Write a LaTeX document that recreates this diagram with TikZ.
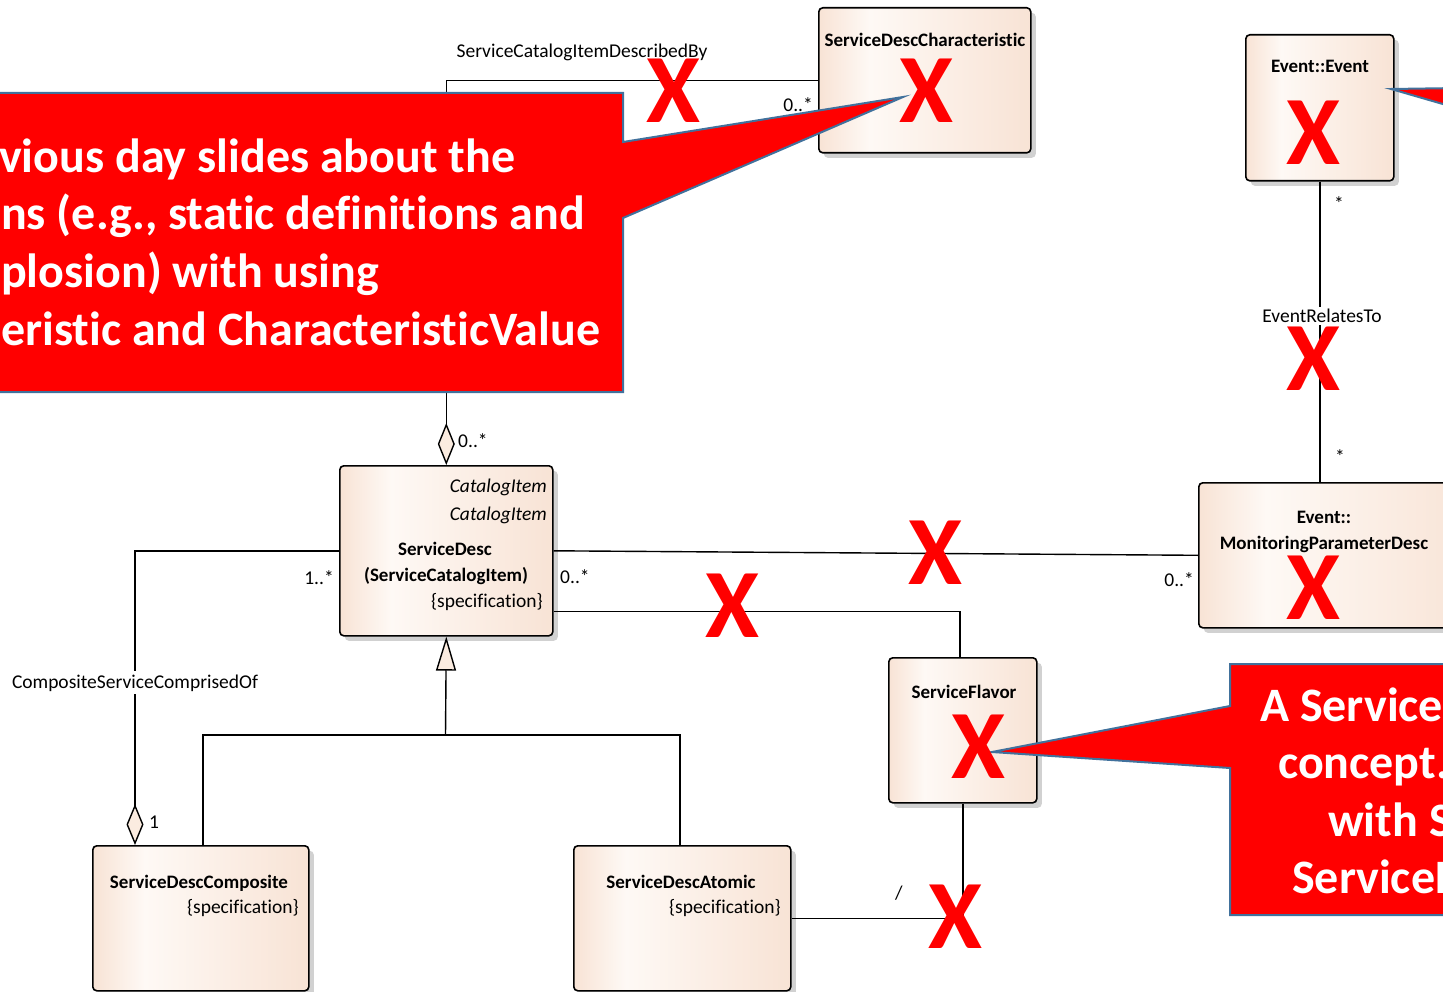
\documentclass[tikz,border=0pt]{standalone}
\usepackage{fontspec}
\setmainfont{Carlito}[Ligatures=NoCommon]
\usetikzlibrary{arrows.meta,shadows}
\definecolor{pch}{RGB}{248,227,213}
\definecolor{pchl}{RGB}{254,249,245}
\definecolor{tipfill}{RGB}{251,236,224}
\definecolor{calloutline}{RGB}{65,113,156}
\definecolor{xred}{RGB}{255,0,0}
\pgfdeclarehorizontalshading{boxshade}{100bp}{color(0bp)=(pch); color(25bp)=(pch); color(37bp)=(pchl); color(75bp)=(pch); color(100bp)=(pch)}
\newcommand\lblfont{\fontsize{19.5}{23}\selectfont}
\newcommand\ttlfont{\fontsize{19}{23}\selectfont\bfseries}
\newcommand\bigfont{\fontsize{48}{57}\selectfont\bfseries}
\newcommand\xfont{\fontsize{98}{100}\selectfont\bfseries}
\begin{document}
\begin{tikzpicture}[x=1pt,y=-1pt,
  umlbox/.style={draw=black, line width=1.6pt, rounded corners=4pt, shading=boxshade,
    drop shadow={shadow xshift=5pt, shadow yshift=-5pt, fill=black!18, opacity=1},
    anchor=north west, inner sep=0pt},
  conn/.style={draw=black, line width=1.4pt},
  lab/.style={font=\lblfont, inner sep=0pt, anchor=base},
  ttl/.style={font=\ttlfont, inner sep=0pt, anchor=base},
  callout/.style={fill=xred, draw=calloutline, line width=2pt, line join=miter},
  bigtxt/.style={font=\bigfont, text=white, inner sep=0pt, anchor=base west},
  xmark/.style={font=\xfont, text=xred, inner sep=0pt}
]
\useasboundingbox (0,0) rectangle (1443,992);
\clip (0,0) rectangle (1443,992);

% boxes
\node[umlbox, minimum width=212pt, minimum height=145pt] (sdc) at (818,7) {};
\node[umlbox, minimum width=148pt, minimum height=146pt] (ev) at (1245,34) {};
\node[umlbox, minimum width=213pt, minimum height=170pt] (sd) at (339,465) {};
\node[umlbox, minimum width=280pt, minimum height=145pt] (mon) at (1198,482) {};
\node[umlbox, minimum width=148pt, minimum height=145pt] (flv) at (888,657) {};
\node[umlbox, minimum width=216pt, minimum height=145pt] (comp) at (92,845) {};
\node[umlbox, minimum width=217pt, minimum height=145pt] (atom) at (573,845) {};

% connectors
\draw[conn, {Diamond[length=42pt,width=17pt,fill=tipfill]}-] (sd.north) |- (sdc.west);
\draw[conn, {Diamond[length=41pt,width=17pt,fill=tipfill]}-] ([xshift=43pt]comp.north west) |- (sd.west);
\coordinate (gen) at (445.5,735);
\draw[conn, -{Triangle[length=34pt,width=20pt,fill=tipfill]}] (gen) -- (sd.south);
\draw[conn] ([xshift=111pt]comp.north west) |- (gen) -| ([xshift=107pt]atom.north west);
\draw[conn] (sd.east) -- (mon.west);
\draw[conn] ([yshift=25pt]sd.south east) -| ([xshift=72pt]flv.north west);
\draw[conn] ([xshift=75pt]flv.south west) |- (atom.east);
\draw[conn] (ev.south) -- (ev.south |- mon.north);

% connector labels
\node[lab] (l1) at (582,58) {ServiceCatalogItemDescribedBy};
\node[lab, anchor=base east] (l2) at (813,112) {0..*};
\node[lab, anchor=base west] (l3) at (458,447) {0..*};
\node[lab, anchor=base east] (l4) at (334,584) {1..*};
\node[lab, anchor=base west] (l5) at (560,583) {0..*};
\node[lab, anchor=base east] (l6) at (1194,586) {0..*};
\node[lab, fill=white, inner sep=3pt] (l7) at (135,688) {CompositeServiceComprisedOf};
\node[lab, anchor=base west] (l8) at (149,828) {1};
\node[lab] (l9) at (899,899) {/};
\node[lab] (l10) at (1339,211) {*};
\node[lab] (l11) at (1340,463) {*};
\node[lab, fill=white, inner sep=2pt] (l12) at (1322,323) {EventRelatesTo};

% box texts
\node[ttl] (t1) at (925,47) {ServiceDescCharacteristic};
\node[ttl] (t2) at (1320,73) {Event::Event};
\node[ttl] (t3) at (1324,523) {Event::};
\node[ttl] (t4) at (1324,549) {MonitoringParameterDesc};
\node[ttl] (t5) at (964,698) {ServiceFlavor};
\node[lab, anchor=base east, font=\lblfont\itshape] (t6) at (547,492) {CatalogItem};
\node[lab, anchor=base east, font=\lblfont\itshape] (t7) at (547,520) {CatalogItem};
\node[ttl] (t8) at (445,555) {ServiceDesc};
\node[ttl] (t9) at (446,581) {(ServiceCatalogItem)};
\node[lab, anchor=base east] (t10) at (543,607) {\{specification\}};
\node[ttl] (t11) at (199,888) {ServiceDescComposite};
\node[lab, anchor=base east] (t12) at (299,913) {\{specification\}};
\node[ttl] (t13) at (681,888) {ServiceDescAtomic};
\node[lab, anchor=base east] (t14) at (781,913) {\{specification\}};

% callouts
\path[callout] (-10,93) -- (623,93) -- (623,142) -- (903,97) -- (623,218) -- (623,392) -- (-10,392) -- cycle;
\path[callout] (1230,664) -- (1460,664) -- (1460,915) -- (1230,915) -- (1230,768) -- (992,752) -- (1230,706) -- cycle;
\path[callout] (1391,89) -- (1460,88) -- (1460,109) -- cycle;

\node[bigtxt] (c1) at (-1,173) {vious day slides about the};
\node[bigtxt] (c2) at (1,230) {ns (e.g., static definitions and};
\node[bigtxt] (c3) at (1,288) {plosion) with using};
\node[bigtxt] (c4) at (1,345) {eristic and CharacteristicValue};
\node[bigtxt] (c5) at (1260,721) {A Service};
\node[bigtxt] (c6) at (1278,778) {concept.};
\node[bigtxt] (c7) at (1328,836) {with S};
\node[bigtxt] (c8) at (1292,893) {ServiceL};

% red crosses
\node[xmark] (x1) at (673,91) {X};
\node[xmark] (x2) at (926,91) {X};
\node[xmark] (x3) at (1313,133) {X};
\node[xmark] (x4) at (1313,359) {X};
\node[xmark] (x5) at (935,553) {X};
\node[xmark] (x6) at (732,606) {X};
\node[xmark] (x7) at (1313,588) {X};
\node[xmark] (x8) at (978,747) {X};
\node[xmark] (x9) at (955,917) {X};
\end{tikzpicture}
\end{document}
